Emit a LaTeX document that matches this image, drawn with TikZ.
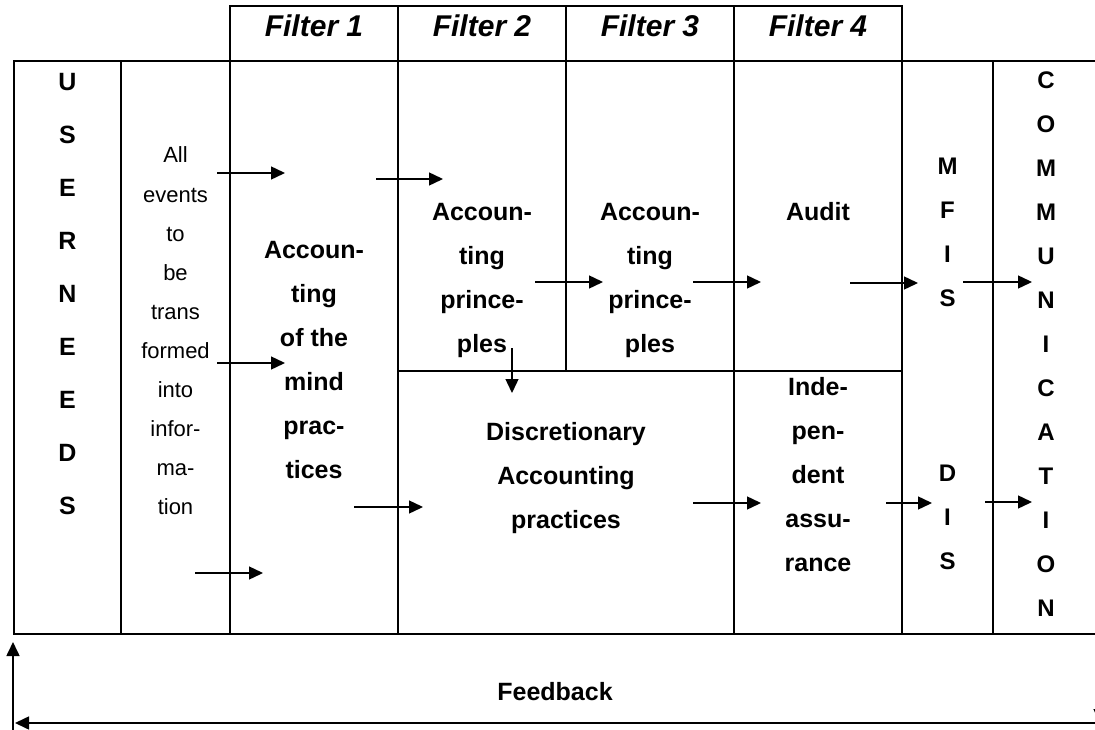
\documentclass[tikz,border=0pt]{standalone}
\usepackage{fontspec}
\setmainfont{Liberation Sans}
\usepackage{tikz}
\usetikzlibrary{arrows.meta}
\tikzset{
  grid/.style={draw=black, line width=2pt},
  hdr/.style={inner sep=0pt, font=\fontsize{30}{36}\selectfont\bfseries\itshape},
  bold/.style={align=center, inner sep=0pt, font=\fontsize{25}{44}\selectfont\bfseries},
  plain/.style={align=center, inner sep=0pt, font=\fontsize{22}{39.1}\selectfont},
  tall/.style={align=center, inner sep=0pt, font=\fontsize{25}{53}\selectfont\bfseries},
  vert/.style={align=center, inner sep=0pt, font=\fontsize{24}{44}\selectfont\bfseries},
  arr/.style={-{Triangle[length=14pt,width=13pt]}, line width=1.4pt},
  fbline/.style={-{Triangle[length=14pt,width=13pt]}, line width=1.6pt}
}

\begin{document}
\begin{tikzpicture}[x=1pt,y=-1pt]
\useasboundingbox (0,0) rectangle (1095,730);

% filter headings
\draw[grid] (230,6) rectangle (902,61);
\foreach \x in {398,566,734} \draw[grid] (\x,6) -- (\x,61);
\node[hdr] (flt1) at (314,26) {Filter 1};
\node[hdr] (flt2) at (482,26) {Filter 2};
\node[hdr] (flt3) at (650,26) {Filter 3};
\node[hdr] (flt4) at (818,26) {Filter 4};

% table body, runs off to the right
\draw[grid] (1110,61) -- (14,61) -- (14,634) -- (1110,634);
\foreach \x in {121,230,398,734,902,993} \draw[grid] (\x,61) -- (\x,634);
\draw[grid] (566,61) -- (566,371);
\draw[grid] (398,371) -- (902,371);

\node[tall] (needs) at (67.5,294) {U\\S\\E\\R\\N\\E\\E\\D\\S};
\node[plain] (events) at (175.5,331) {All\\events\\to\\be\\trans\\formed\\into\\infor-\\ma-\\tion};
\node[bold] (mind) at (314,360) {Accoun-\\ting\\of the\\mind\\prac-\\tices};
\node[bold] (princ2) at (482,280) {Accoun-\\ting\\prince-\\ples};
\node[bold] (princ3) at (650,280) {Accoun-\\ting\\prince-\\ples};
\node[bold] (audit) at (818,212) {Audit};
\node[bold] (discr) at (566,478) {Discretionary\\Accounting\\practices};
\node[bold] (indep) at (818,475) {Inde-\\pen-\\dent\\assu-\\rance};
\node[vert] (mis) at (947.5,232) {M\\F\\I\\S};
\node[vert] (dis) at (947.5,517) {D\\I\\S};
\node[vert] (comm) at (1046,344) {C\\O\\M\\M\\U\\N\\I\\C\\A\\T\\I\\O\\N};

% flow arrows
\foreach \n/\xa/\xb/\y in {a/217/285/173, b/376/443/179, c/217/285/363,
    d/195/263/573, e/354/423/507, f/535/603/282, g/693/761/282,
    h/850/918/283, i/963/1032/282, j/693/761/503, k/886/932/503,
    l/985/1032/502}{
  \coordinate (\n0) at (\xa,\y);
  \coordinate (\n1) at (\xb,\y);
  \draw[arr] (\n0) -- (\n1);
}
\coordinate (m0) at (512,348);
\coordinate (m1) at (512,393);
\draw[arr] (m0) -- (m1);

% feedback loop
\node[bold] (fb) at (555,692) {Feedback};
\coordinate (fbin) at (1100,650);
\coordinate (fbturn) at (1100,723);
\coordinate (fbend) at (15,723);
\coordinate (fbup0) at (13,745);
\coordinate (fbup1) at (13,642);
\draw[fbline] (fbin) -- (fbturn);
\draw[fbline] (fbturn) -- (fbend);
\draw[fbline] (fbup0) -- (fbup1);
\end{tikzpicture}
\end{document}
